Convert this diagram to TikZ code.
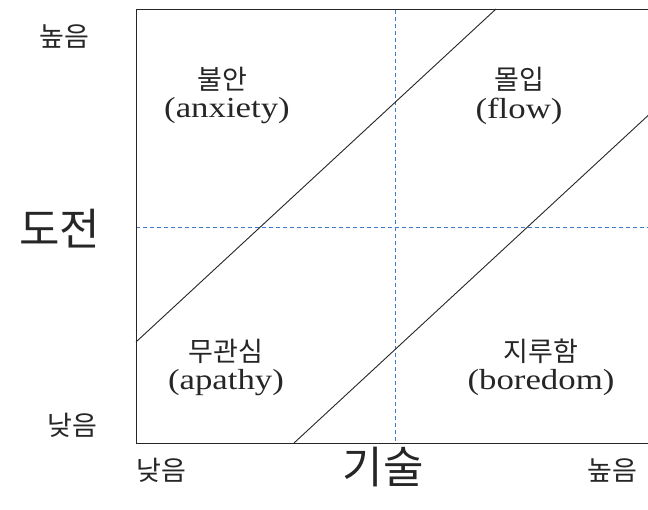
\documentclass[tikz,border=0pt]{standalone}
\usepackage{fontspec}
\newfontfamily\kr{Noto Sans CJK KR}
\newfontfamily\lat[FakeStretch=1.2]{Liberation Serif}
\definecolor{dashblue}{RGB}{60,120,205}
\begin{document}
\begin{tikzpicture}[x=1pt,y=-1pt,
  frame/.style={draw=black!85,line width=1pt},
  guide/.style={draw=dashblue,line width=0.9pt,dash pattern=on 4pt off 3pt},
  diag/.style={draw=black!85,line width=0.9pt},
  krs/.style={font=\kr\fontsize{27}{30}\selectfont,text=black!85,inner sep=0pt},
  krb/.style={font=\kr\fontsize{44}{48}\selectfont,text=black!85,inner sep=0pt},
  ens/.style={font=\lat\fontsize{29}{31}\selectfont,text=black!85,inner sep=0pt}]
\useasboundingbox (0,0) rectangle (648,510);
\clip (0,0) rectangle (648,510);
\fill[white] (0,0) rectangle (648,510);
% frame
\coordinate (tl) at (136,10);
\coordinate (br) at (654,443);
\coordinate (vt) at (395,10);
\coordinate (vb) at (395,443);
\coordinate (hl) at (136,227);
\coordinate (hr) at (654,227);
\draw[guide] (vt) -- (vb);
\draw[guide] (hl) -- (hr);
\draw[frame] (tl) rectangle (br);
% diagonals
\coordinate (a1) at (136,342);
\coordinate (a2) at (496,9);
\coordinate (b1) at (294,443);
\coordinate (b2) at (654,110);
\draw[diag] (a1) -- (a2);
\draw[diag] (b1) -- (b2);
% axis labels
\node[krs] (yhi) at (64,37) {높음};
\node[krs] (ylo) at (72,425) {낮음};
\node[krb] (ylab) at (60,229) {도전};
\node[krs] (xlo) at (161,470) {낮음};
\node[krb] (xlab) at (383,467) {기술};
\node[krs] (xhi) at (612,470) {높음};
% quadrants
\node[krs] (q1k) at (222,79) {불안};
\node[ens] (q1e) at (227,111) {(anxiety)};
\node[krs] (q2k) at (519,79) {몰입};
\node[ens] (q2e) at (519,111) {(flow)};
\node[krs] (q3k) at (226,351) {무관심};
\node[ens] (q3e) at (226,383) {(apathy)};
\node[krs] (q4k) at (541,351) {지루함};
\node[ens] (q4e) at (541,383) {(boredom)};
\end{tikzpicture}
\end{document}
